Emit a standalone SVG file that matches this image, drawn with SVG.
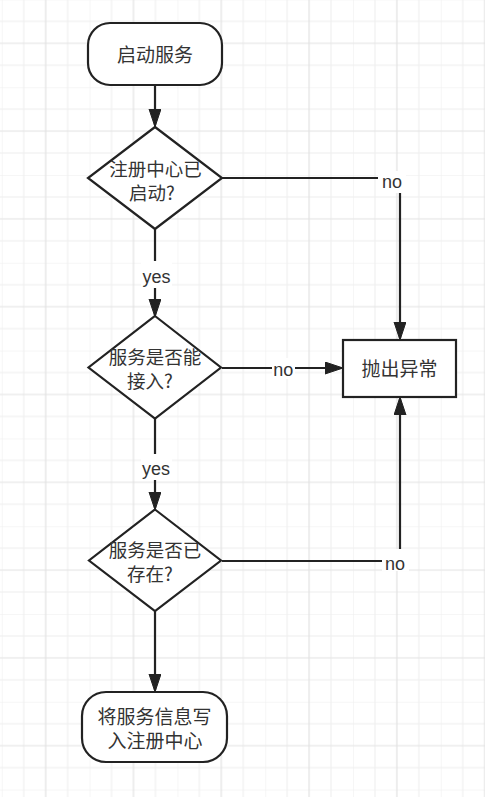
<svg xmlns="http://www.w3.org/2000/svg" width="485" height="797" viewBox="0 0 485 797">
<style>
.node{fill:#fff;stroke:#222;stroke-width:2.2}
.edge{fill:none;stroke:#222;stroke-width:2.2}
.cjk{font-family:"Noto Sans CJK SC","Noto Sans",sans-serif;font-size:19px;fill:#333;text-anchor:middle}
.dtx{font-size:18.5px}
.lbl{font-family:"Liberation Sans","Noto Sans",sans-serif;font-size:18px;fill:#333;text-anchor:middle}
.lblbg{fill:#fff}
</style>
<defs>
<pattern id="grid" patternUnits="userSpaceOnUse" x="1.8" y="-0.6" width="87.8" height="87.8">
<path d="M0,0V87.8M21.95,0V87.8M65.85,0V87.8M0,0H87.8M0,21.95H87.8M0,65.85H87.8" stroke="#eeeeee" stroke-width="1" fill="none"/>
<path d="M43.9,0V87.8M0,43.9H87.8" stroke="#e2e2e2" stroke-width="1.2" fill="none"/>
</pattern>
<marker id="arr" markerUnits="userSpaceOnUse" markerWidth="20" markerHeight="14" refX="16" refY="6" orient="auto">
<path d="M0,0L18,6L0,12Z" fill="#222" stroke="#222" stroke-width="1"/>
</marker>
</defs>
<rect width="485" height="797" fill="#fff"/>
<rect width="485" height="797" fill="url(#grid)"/>

<g id="connectors">
<path class="edge" d="M155,85V125" marker-end="url(#arr)"/>
<path class="edge" d="M155,229V315" marker-end="url(#arr)"/>
<path class="edge" d="M155,418V508" marker-end="url(#arr)"/>
<path class="edge" d="M155,611V690" marker-end="url(#arr)"/>
<path class="edge" d="M222,178H400V338" marker-end="url(#arr)"/>
<path class="edge" d="M222,368H341" marker-end="url(#arr)"/>
<path class="edge" d="M222,561H400V399" marker-end="url(#arr)"/>
<g id="labels">
<rect class="lblbg" x="141" y="261" width="31" height="27"/>
<text class="lbl" x="156.5" y="283">yes</text>
<rect class="lblbg" x="141" y="454" width="31" height="26"/>
<text class="lbl" x="156" y="475">yes</text>
<rect class="lblbg" x="378" y="171" width="28" height="22"/>
<text class="lbl" x="392" y="188">no</text>
<rect class="lblbg" x="272" y="358" width="23" height="21"/>
<text class="lbl" x="283.3" y="376">no</text>
<rect class="lblbg" x="382" y="549" width="27" height="22"/>
<text class="lbl" x="395" y="570">no</text>
</g>
</g>

<g id="start">
<rect class="node" x="88" y="23" width="134" height="62" rx="22" ry="22"/>
<text class="cjk" x="155" y="62">启动服务</text>
</g>

<g id="check-registry">
<polygon class="node" points="155,127 222,178 155,229 88,178"/>
<text class="cjk dtx"><tspan x="155.5" y="175.5">注册中心已</tspan><tspan x="152" y="199.5">启动?</tspan></text>
</g>

<g id="check-access">
<polygon class="node" points="155,316 221,367.5 155,418.5 88.5,367.5"/>
<text class="cjk dtx"><tspan x="155" y="363.5">服务是否能</tspan><tspan x="150" y="387.5">接入?</tspan></text>
</g>

<g id="check-exists">
<polygon class="node" points="155,509.5 221,560.5 155,611 89,560.5"/>
<text class="cjk dtx"><tspan x="155" y="557">服务是否已</tspan><tspan x="150" y="581">存在?</tspan></text>
</g>

<g id="throw">
<rect class="node" x="343" y="340" width="113" height="57"/>
<text class="cjk" x="399.5" y="376">抛出异常</text>
</g>

<g id="register">
<rect class="node" x="82" y="692" width="145" height="70" rx="24" ry="24"/>
<text class="cjk"><tspan x="154.5" y="723.5">将服务信息写</tspan><tspan x="155" y="748">入注册中心</tspan></text>
</g>
</svg>
